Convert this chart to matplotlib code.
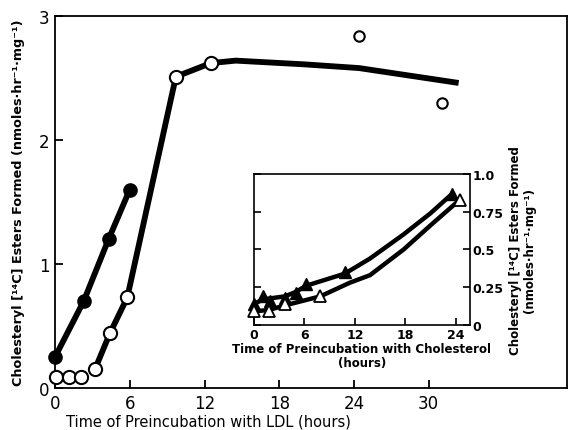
"""Cholesteryl ester formation after LDL / cholesterol preincubation."""
import matplotlib
matplotlib.use("Agg")
import matplotlib.pyplot as plt

# main panel: preincubation with LDL (hours)
filled_x = [0, 2.3, 4.3, 6.0]
filled_y = [0.25, 0.70, 1.20, 1.60]

open_x = [0.1, 1.1, 2.1, 3.2, 4.4, 5.8, 9.7, 12.5]
open_y = [0.09, 0.09, 0.09, 0.15, 0.44, 0.73, 2.51, 2.62]

# hand-drawn curve through the open circles
open_fit_x = [3.2, 4.4, 5.8, 9.7, 12.5, 14.5, 20.0, 24.4, 32.4]
open_fit_y = [0.15, 0.44, 0.73, 2.51, 2.62, 2.64, 2.61, 2.58, 2.46]

stray_x = [24.4, 31.1]
stray_y = [2.84, 2.30]

main_xticks = [0, 6, 12, 18, 24, 30]

# inset: preincubation with cholesterol (hours)
tri_fill_x = [0, 1.1, 1.9, 3.7, 5.0, 6.2, 10.8, 23.6]
tri_fill_y = [0.14, 0.19, 0.16, 0.18, 0.21, 0.27, 0.35, 0.87]
tri_fill_fit_x = [0, 1.1, 3.7, 5.0, 6.2, 10.8, 13.8, 17.8, 21.0, 23.6]
tri_fill_fit_y = [0.14, 0.17, 0.19, 0.22, 0.26, 0.34, 0.44, 0.60, 0.74, 0.87]

tri_open_x = [0, 1.8, 3.7, 7.9, 24.5]
tri_open_y = [0.09, 0.09, 0.14, 0.19, 0.83]
tri_open_fit_x = [0, 1.8, 3.7, 7.9, 11.4, 13.8, 17.8, 21.0, 24.5]
tri_open_fit_y = [0.09, 0.10, 0.13, 0.19, 0.28, 0.33, 0.50, 0.66, 0.83]

inset_xticks = [0, 6, 12, 18, 24]
inset_yticks = [0, 0.25, 0.5, 0.75, 1.0]
inset_yticklabels = ["0", "0.25", "0.5", "0.75", "1.0"]


def main() -> None:
    fig = plt.figure(figsize=(5.69, 4.31), dpi=100)
    ax = fig.add_axes([0.0967, 0.0974, 0.8998, 0.8632])
    ax.set_xlim(0, 41.1)
    ax.set_ylim(0, 3.0)

    ax.plot(open_fit_x, open_fit_y, color="black", lw=4.2, solid_capstyle="butt", zorder=2)
    ax.plot(filled_x, filled_y, color="black", lw=4.2, solid_capstyle="butt", zorder=2)
    ax.plot(open_x, open_y, "o", ms=9.5, mfc="white", mec="black", mew=1.5,
            clip_on=False, zorder=3)
    ax.plot(filled_x, filled_y, "o", ms=9.5, mfc="black", mec="black",
            clip_on=False, zorder=3)
    ax.plot(stray_x, stray_y, "o", ms=7.5, mfc="white", mec="black", mew=1.5, zorder=3)

    ax.set_xticks(main_xticks)
    ax.set_yticks([0, 1, 2, 3])
    ax.tick_params(direction="in", length=6, width=1.3, labelsize=12, pad=4)
    for s in ax.spines.values():
        s.set_linewidth(1.3)
    ax.set_xlabel("Time of Preincubation with LDL (hours)", fontsize=10.5)
    ax.xaxis.set_label_coords(0.30, -0.068)
    ax.set_ylabel("Cholesteryl [¹⁴C] Esters Formed (nmoles·hr⁻¹·mg⁻¹)",
                  fontsize=9.2, fontweight="bold")
    ax.yaxis.set_label_coords(-0.058, 0.5)

    # inset
    ins = fig.add_axes([0.4464, 0.2436, 0.3796, 0.3504])
    ins.set_xlim(0, 25.7)
    ins.set_ylim(0, 1.0)
    ins.plot(tri_fill_fit_x, tri_fill_fit_y, color="black", lw=3.2, zorder=2)
    ins.plot(tri_open_fit_x, tri_open_fit_y, color="black", lw=3.2, zorder=2)
    ins.plot(tri_fill_x, tri_fill_y, "^", ms=8.5, mfc="black", mec="black",
             clip_on=False, zorder=3)
    ins.plot(tri_open_x, tri_open_y, "^", ms=8.5, mfc="white", mec="black", mew=1.3,
             clip_on=False, zorder=3)
    ins.set_xticks(inset_xticks)
    ins.set_yticks(inset_yticks)
    ins.set_yticklabels(inset_yticklabels)
    ins.tick_params(direction="in", length=5, width=1.2, labelsize=9, pad=2,
                    left=True, right=True, labelleft=False, labelright=True)
    for lab in ins.get_xticklabels() + ins.get_yticklabels():
        lab.set_fontweight("bold")
    for s in ins.spines.values():
        s.set_linewidth(1.2)
    ins.set_xlabel("Time of Preincubation with Cholesterol\n(hours)", fontsize=8.5,
                   fontweight="bold", labelpad=1, linespacing=1.1)
    ins.yaxis.set_label_position("right")
    ins.set_ylabel("Cholesteryl [¹⁴C] Esters Formed\n(nmoles·hr⁻¹·mg⁻¹)", fontsize=8.5,
                   fontweight="bold", labelpad=4, linespacing=1.1)

    fig.savefig("out.png", dpi=100)
    plt.close(fig)


if __name__ == "__main__":
    main()
